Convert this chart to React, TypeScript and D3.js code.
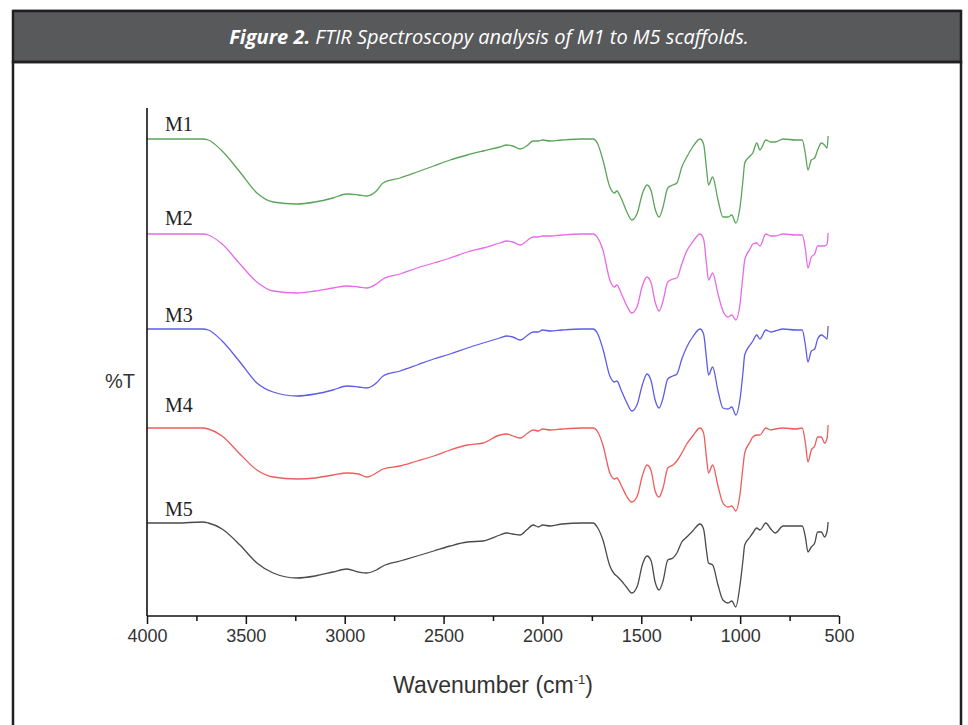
import { useEffect, useRef } from 'react';
import * as d3 from 'd3';

// wavenumber grid (cm-1), shared by all spectra
const wavenumbers = [
  4000, 3850, 3720, 3690, 3620, 3530, 3444, 3362, 3241, 3150,
  3059, 2989, 2930, 2888, 2840, 2806, 2720, 2634, 2550, 2467,
  2380, 2300, 2215, 2180, 2150, 2113, 2080, 2047, 2020, 2000,
  1960, 1900, 1800, 1744, 1720, 1694, 1659, 1636, 1624, 1600,
  1575, 1548, 1520, 1495, 1471, 1450, 1430, 1410, 1390, 1366,
  1340, 1320, 1295, 1270, 1240, 1203, 1185, 1170, 1160, 1139,
  1112, 1087, 1061, 1042, 1022, 1002, 985, 977, 950, 936,
  916, 900, 870, 845, 823, 782, 720, 686, 670, 657,
  640, 623, 608, 589, 573, 560, 555,
];

// relative transmittance
const m1 = [
  100, 100, 100, 99, 88, 67, 46, 37, 35, 37,
  41, 45, 44, 43, 48, 56, 61, 67, 73, 79,
  84, 88, 92, 94, 93, 90, 93, 98, 98, 99,
  98, 99, 100, 100, 95, 79, 52, 46, 48, 40,
  28, 19, 26, 45, 54, 48, 30, 22, 32, 51,
  54, 56, 72, 82, 92, 100, 95, 70, 54, 62,
  39, 22, 22, 24, 16, 30, 60, 76, 83, 86,
  96, 89, 99, 97, 97, 100, 99, 99, 85, 69,
  79, 81, 89, 96, 94, 91, 103,
];
const m2 = [
  100, 100, 100, 99, 90, 70, 52, 43, 41, 43,
  46, 48, 47, 46, 50, 55, 60, 66, 71, 76,
  82, 86, 91, 93, 92, 89, 93, 97, 97, 98,
  98, 99, 100, 100, 96, 84, 54, 47, 49, 40,
  29, 21, 28, 48, 57, 51, 32, 23, 33, 52,
  55, 56, 70, 83, 92, 100, 95, 70, 54, 61,
  40, 23, 17, 19, 14, 28, 60, 74, 85, 90,
  91, 88, 100, 98, 98, 100, 99, 99, 85, 66,
  77, 80, 88, 88, 88, 90, 101,
];
const m3 = [
  100, 100, 100, 99, 88, 67, 46, 37, 33, 35,
  39, 43, 42, 41, 46, 53, 58, 64, 70, 75,
  81, 86, 91, 93, 92, 89, 93, 97, 97, 99,
  98, 99, 100, 100, 95, 80, 53, 47, 48, 38,
  27, 18, 25, 44, 55, 48, 29, 21, 31, 50,
  53, 55, 70, 82, 92, 100, 95, 70, 54, 62,
  38, 21, 20, 22, 14, 28, 58, 74, 84, 88,
  94, 90, 99, 97, 98, 100, 99, 99, 84, 67,
  78, 80, 90, 94, 92, 90, 103,
];
const m4 = [
  100, 100, 100, 99, 92, 74, 58, 51, 49, 50,
  53, 55, 54, 51, 55, 59, 62, 67, 72, 78,
  83, 85, 93, 94, 92, 90, 94, 98, 97, 99,
  98, 99, 100, 100, 96, 83, 55, 49, 50, 42,
  32, 26, 32, 52, 63, 57, 37, 31, 40, 60,
  63, 67, 75, 84, 92, 100, 95, 70, 55, 63,
  42, 25, 21, 22, 17, 32, 62, 75, 86, 91,
  93, 93, 100, 98, 99, 100, 99, 100, 85, 66,
  78, 82, 91, 91, 85, 90, 103,
];
const m5 = [
  100, 100, 101, 100, 94, 78, 60, 50, 45, 47,
  51, 54, 51, 50, 53, 57, 62, 67, 72, 77,
  81, 82, 88, 90, 89, 88, 93, 98, 96, 98,
  97, 99, 100, 100, 95, 83, 57, 49, 47, 42,
  36, 30, 37, 58, 67, 62, 41, 33, 42, 63,
  65, 70, 81, 86, 92, 99, 94, 72, 60, 58,
  38, 23, 20, 22, 16, 36, 64, 78, 86, 90,
  95, 93, 100, 94, 90, 97, 97, 97, 86, 71,
  76, 80, 91, 91, 86, 92, 101,
];

const seriesNames = ['M1', 'M2', 'M3', 'M4', 'M5'];
const seriesValues = [m1, m2, m3, m4, m5];
// vertical stacking offsets of the plot
const stackOffsets = [384, 289, 194, 95, 0];
const labelGaps = [8, 9, 7, 16, 7];
const seriesColors = ['#5aa45a', '#e86ae8', '#5c5cea', '#ee5c5c', '#4a4a4a'];

const majorTicks = [4000, 3500, 3000, 2500, 2000, 1500, 1000, 500];
const minorTicks = [3750, 3250, 2750, 2250, 1750, 1250, 750];

export default function App() {
  const svgRef = useRef<SVGSVGElement>(null);

  useEffect(() => {
    if (!svgRef.current) return;
    const width = 968;
    const height = 725;
    const plot = { left: 147, right: 839, top: 108, bottom: 616 };

    const svg = d3.select(svgRef.current);
    svg.selectAll('*').remove();
    svg.attr('width', width).attr('height', height);

    svg.append('rect').attr('width', width).attr('height', height).attr('fill', '#fff');

    // frame + header bar
    svg.append('line')
      .attr('x1', 13).attr('x2', 961).attr('y1', 9.5).attr('y2', 9.5)
      .attr('stroke', '#c8c8c8').attr('stroke-width', 1);
    svg.append('rect')
      .attr('x', 13).attr('y', 11).attr('width', 948).attr('height', 51)
      .attr('fill', '#58595b').attr('stroke', '#231f20').attr('stroke-width', 2.5);
    svg.append('rect')
      .attr('x', 13).attr('y', 62).attr('width', 948).attr('height', 700)
      .attr('fill', 'none').attr('stroke', '#231f20').attr('stroke-width', 2.5);

    const title = svg.append('text')
      .attr('x', 489).attr('y', 44)
      .attr('text-anchor', 'middle')
      .attr('fill', '#fff')
      .attr('font-family', '"Open Sans", sans-serif')
      .attr('font-style', 'italic')
      .attr('font-size', 20);
    title.append('tspan').attr('font-weight', 'bold').text('Figure 2.');
    title.append('tspan').text(' FTIR Spectroscopy analysis of M1 to M5 scaffolds.');

    const x = d3.scaleLinear().domain([4000, 500]).range([plot.left, plot.right]);
    const y = d3.scaleLinear().domain([7, 515]).range([plot.bottom, plot.top]);

    const g = svg.append('g');

    // spectra
    seriesValues.forEach((vals, si) => {
      const pts = wavenumbers.map((w, i) => [w, vals[i] + stackOffsets[si]] as [number, number]);
      const line = d3.line<[number, number]>()
        .x((d) => x(d[0]))
        .y((d) => y(d[1]))
        .curve(d3.curveMonotoneX);
      g.append('path')
        .datum(pts)
        .attr('fill', 'none')
        .attr('stroke', seriesColors[si])
        .attr('stroke-width', 1.3)
        .attr('stroke-linejoin', 'round')
        .attr('d', line);

      g.append('text')
        .attr('x', 165)
        .attr('y', y(vals[0] + stackOffsets[si]) - labelGaps[si])
        .attr('font-family', '"Liberation Serif", "Times New Roman", serif')
        .attr('font-size', 20)
        .attr('fill', '#222')
        .text(seriesNames[si]);
    });

    // X axis (major + minor ticks, outward)
    const xMajor = g.append('g')
      .attr('transform', `translate(0,${plot.bottom})`)
      .call(d3.axisBottom(x).tickValues(majorTicks).tickSize(8).tickSizeOuter(0).tickPadding(5).tickFormat((d) => `${d}`));
    xMajor.select('.domain').remove();
    xMajor.selectAll('line').attr('stroke', '#111').attr('stroke-width', 1.5);
    xMajor.selectAll('text')
      .attr('font-family', '"Liberation Sans", Arial, sans-serif')
      .attr('font-size', 18)
      .attr('fill', '#333');

    const xMinor = g.append('g')
      .attr('transform', `translate(0,${plot.bottom})`)
      .call(d3.axisBottom(x).tickValues(minorTicks).tickSize(5).tickSizeOuter(0).tickFormat(() => ''));
    xMinor.select('.domain').remove();
    xMinor.selectAll('line').attr('stroke', '#111').attr('stroke-width', 1.5);

    g.append('line')
      .attr('x1', plot.left).attr('x2', plot.right)
      .attr('y1', plot.bottom).attr('y2', plot.bottom)
      .attr('stroke', '#111').attr('stroke-width', 1.6);
    g.append('line')
      .attr('x1', plot.left).attr('x2', plot.left)
      .attr('y1', plot.top).attr('y2', plot.bottom)
      .attr('stroke', '#111').attr('stroke-width', 1.6);

    // axis titles
    const xt = g.append('text')
      .attr('x', 493).attr('y', 693)
      .attr('text-anchor', 'middle')
      .attr('font-family', '"Liberation Sans", Arial, sans-serif')
      .attr('font-size', 23)
      .attr('fill', '#333');
    xt.append('tspan').text('Wavenumber (cm');
    xt.append('tspan').attr('dy', -9).attr('font-size', 13).text('-1');
    xt.append('tspan').attr('dy', 9).text(')');

    g.append('text')
      .attr('x', 120).attr('y', 388)
      .attr('text-anchor', 'middle')
      .attr('font-family', '"Liberation Sans", Arial, sans-serif')
      .attr('font-size', 20)
      .attr('fill', '#333')
      .text('%T');
  }, []);

  return (
    <svg ref={svgRef} style={{ position: 'absolute', left: 0, top: 0, display: 'block' }} />
  );
}
